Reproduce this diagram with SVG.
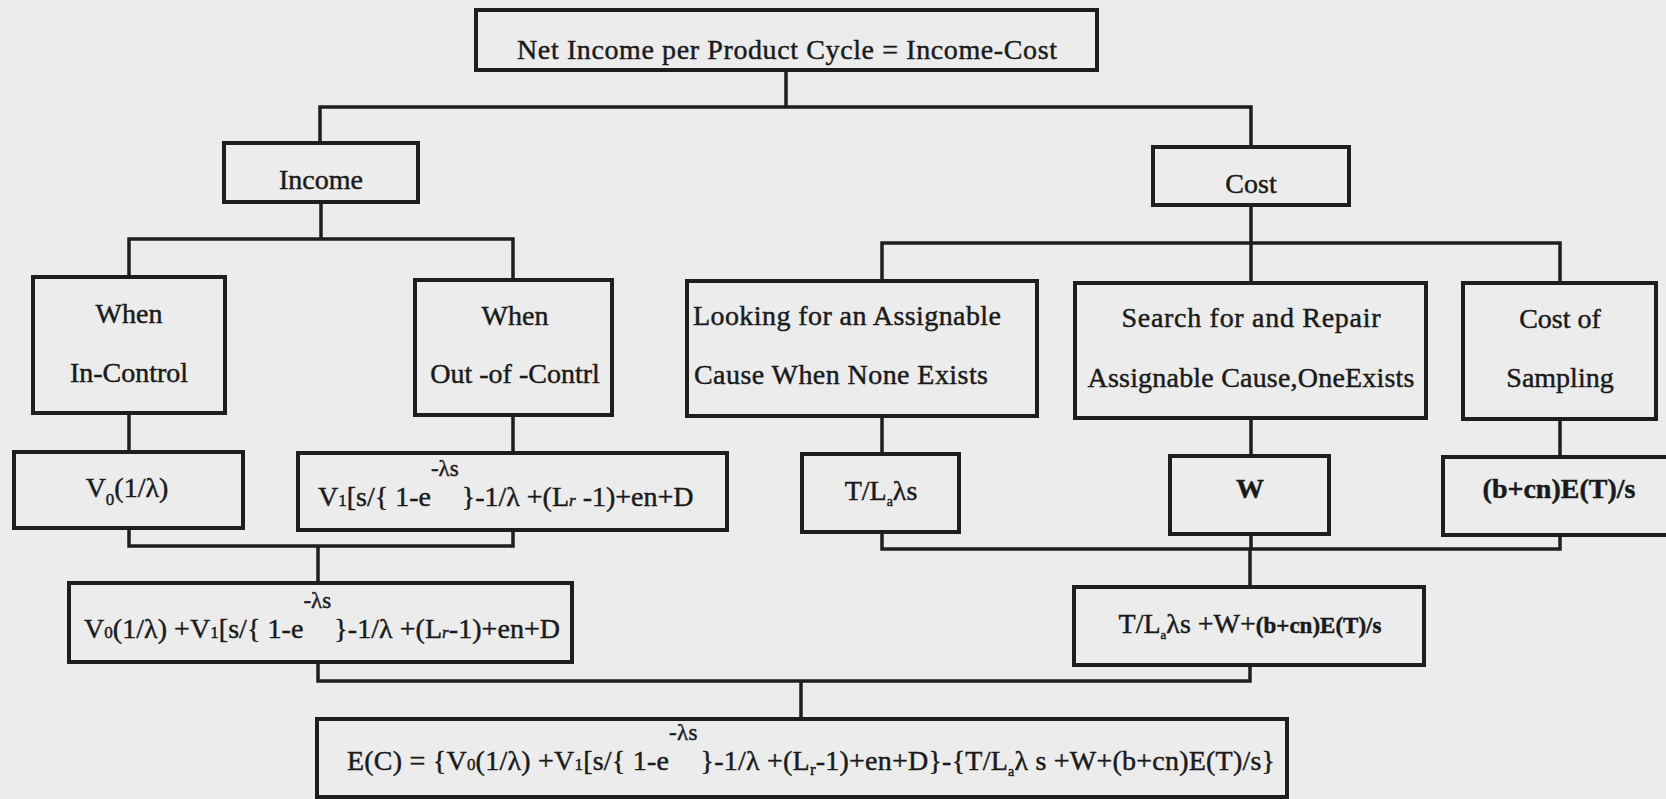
<svg xmlns="http://www.w3.org/2000/svg" width="1666" height="799" viewBox="0 0 1666 799">
<style>
.bx{fill:none;stroke:#1e1e1e;stroke-width:4}
.cn{fill:none;stroke:#1e1e1e;stroke-width:3.5;stroke-linecap:square}
text{font-family:"Liberation Serif","Times New Roman",serif;font-size:28px;fill:#1a1a1a;stroke:#1a1a1a;stroke-width:0.45}
.m{text-anchor:middle}
.sm{font-size:17px}
.sup{font-size:23px}
.b{font-weight:bold}
</style>
<rect x="0" y="0" width="1666" height="799" fill="#ececec"/>
<g id="connectors">
<path class="cn" d="M786 70V107M320 107H1251M320 107V143M1251 107V147"/>
<path class="cn" d="M321 202V239M129 239H513M129 239V277M513 239V280"/>
<path class="cn" d="M1251 205V243M882 243H1560M882 243V281M1251 243V283M1560 243V283"/>
<path class="cn" d="M129 413V452M513 415V453M882 416V454M1251 418V456M1560 419V457"/>
<path class="cn" d="M129 528V546M513 530V546M129 546H513M318 546V583"/>
<path class="cn" d="M882 532V549M1251 534V549M1560 535V549M882 549H1560M1250 549V587"/>
<path class="cn" d="M318 662V681M1250 665V681M318 681H1250M801 681V719"/>
</g>
<g id="net-income">
<rect class="bx" x="476" y="10" width="621" height="60"/>
<text class="m" x="787" y="59" font-size="29" textLength="540">Net Income per Product Cycle = Income-Cost</text>
</g>
<g id="income">
<rect class="bx" x="224" y="143" width="194" height="59"/>
<text class="m" x="321" y="189">Income</text>
</g>
<g id="cost">
<rect class="bx" x="1153" y="147" width="196" height="58"/>
<text class="m" x="1251" y="193">Cost</text>
</g>
<g id="in-control">
<rect class="bx" x="33" y="277" width="192" height="136"/>
<text class="m" x="129" y="323">When</text>
<text class="m" x="129" y="382">In-Control</text>
</g>
<g id="out-of-control">
<rect class="bx" x="415" y="280" width="197" height="135"/>
<text class="m" x="515" y="325">When</text>
<text class="m" x="515" y="383">Out -of -Contrl</text>
</g>
<g id="looking">
<rect class="bx" x="687" y="281" width="350" height="135"/>
<text x="693" y="325" textLength="308">Looking for an Assignable</text>
<text x="694" y="384" textLength="294">Cause When None Exists</text>
</g>
<g id="search">
<rect class="bx" x="1075" y="283" width="351" height="135"/>
<text class="m" x="1251" y="327" textLength="259">Search for and Repair</text>
<text class="m" x="1251" y="387" textLength="327">Assignable Cause,OneExists</text>
</g>
<g id="sampling">
<rect class="bx" x="1463" y="283" width="193" height="136"/>
<text class="m" x="1560" y="328">Cost of</text>
<text class="m" x="1560" y="387">Sampling</text>
</g>
<g id="v0">
<rect class="bx" x="14" y="452" width="229" height="76"/>
<text class="m" x="127" y="497">V<tspan class="sm" dy="8">0</tspan><tspan dy="-8">(1/λ)</tspan></text>
</g>
<g id="v1">
<rect class="bx" x="298" y="453" width="429" height="77"/>
<text x="318" y="506">V<tspan class="sm">1</tspan>[s/{ 1-e<tspan class="sup" dy="-30">-λs</tspan><tspan dy="30" dx="3">}-1/λ +(L<tspan class="sm" font-style="italic">r</tspan> -1)+en+D</tspan></text>
</g>
<g id="tla">
<rect class="bx" x="802" y="454" width="157" height="78"/>
<text class="m" x="881" y="500">T/L<tspan font-size="14" dy="6">a</tspan><tspan dy="-6">λs</tspan></text>
</g>
<g id="w">
<rect class="bx" x="1170" y="456" width="159" height="78"/>
<text class="m b" x="1250" y="498" font-size="24">W</text>
</g>
<g id="sampling-cost">
<rect class="bx" x="1443" y="457" width="232" height="78"/>
<text class="m b" x="1559" y="498" font-size="23">(b+cn)E(T)/s</text>
</g>
<g id="income-sum">
<rect class="bx" x="69" y="583" width="503" height="79"/>
<text x="84" y="638" textLength="476">V<tspan class="sm">0</tspan>(1/λ) +V<tspan class="sm">1</tspan>[s/{ 1-e<tspan class="sup" dy="-30">-λs</tspan><tspan dy="30" dx="3">}-1/λ +(L<tspan class="sm" font-style="italic">r</tspan>-1)+en+D</tspan></text>
</g>
<g id="cost-sum">
<rect class="bx" x="1074" y="587" width="350" height="78"/>
<text class="m" x="1250" y="633" font-size="25">T/L<tspan font-size="13" dy="6">a</tspan><tspan dy="-6">λs +W+</tspan><tspan class="b" font-size="23">(b+cn)E(T)/s</tspan></text>
</g>
<g id="expected-cost">
<rect class="bx" x="317" y="719" width="970" height="78"/>
<text x="347" y="770" textLength="928">E(C) = {V<tspan class="sm">0</tspan>(1/λ) +V<tspan class="sm">1</tspan>[s/{ 1-e<tspan class="sup" dy="-30">-λs</tspan><tspan dy="30" dx="3">}-1/λ +(L<tspan class="sm" dy="5">r</tspan><tspan dy="-5">-1)+en+D}-{T/L</tspan><tspan font-size="14" dy="6">a</tspan><tspan dy="-6">λ s +W+(b+cn)E(T)/s}</tspan></tspan></text>
</g>
</svg>
